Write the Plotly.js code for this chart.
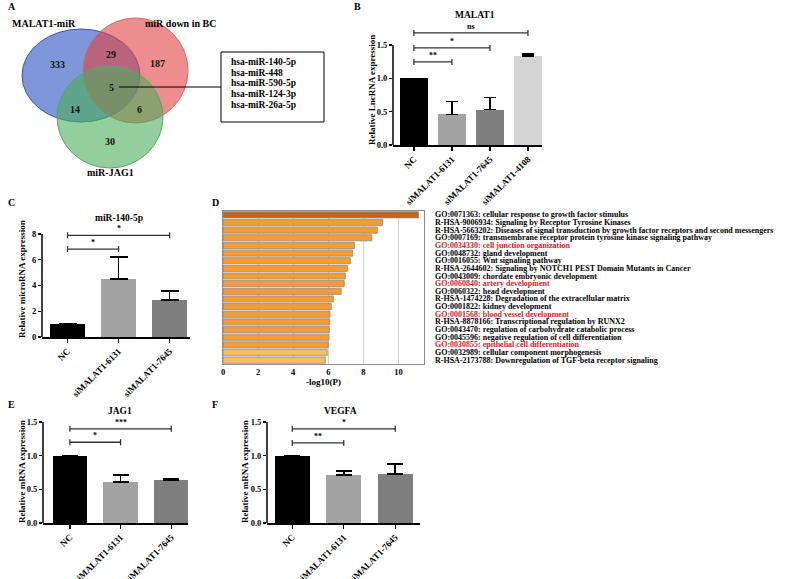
<!DOCTYPE html>
<html>
<head>
<meta charset="utf-8">
<script src="https://cdn.plot.ly/plotly-3.0.1.min.js"></script>
<style>html,body{margin:0;padding:0;background:#fff;}#chart{width:789px;height:579px;}</style>
</head>
<body>
<div id="chart"></div>
<script>
// ---------------- DATA ----------------
// Panel A: Venn diagram
const vennSetNames = ['MALAT1-miR', 'miR down in BC', 'miR-JAG1'];
const vennRegionCounts = [333, 29, 187, 5, 14, 6, 30];
const sharedMiRs = ['hsa-miR-140-5p', 'hsa-miR-448', 'hsa-miR-590-5p', 'hsa-miR-124-3p', 'hsa-miR-26a-5p'];

// Panel B: MALAT1
const malat1Groups = ['NC', 'siMALAT1-6131', 'siMALAT1-7645', 'siMALAT1-4108'];
const malat1Mean = [1.0, 0.46, 0.53, 1.33];
const malat1Err = [0, 0.19, 0.18, 0.03];
const malat1SigPairs = [[0, 1], [0, 2], [0, 3]];
const malat1SigLabels = ['**', '*', 'ns'];
const malat1SigY = [1.245, 1.455, 1.68];

// Panel C: miR-140-5p
const siGroups = ['NC', 'siMALAT1-6131', 'siMALAT1-7645'];
const mir140Mean = [1.0, 4.5, 2.87];
const mir140Err = [0, 1.7, 0.7];
const mir140SigPairs = [[0, 1], [0, 2]];
const mir140SigLabels = ['*', '*'];
const mir140SigY = [6.83, 7.9];

// Panel D: enrichment
const goTerms = [
  'GO:0071363: cellular response to growth factor stimulus',
  'R-HSA-9006934: Signaling by Receptor Tyrosine Kinases',
  'R-HSA-5663202: Diseases of signal transduction by growth factor receptors and second messengers',
  'GO:0007169: transmembrane receptor protein tyrosine kinase signaling pathway',
  'GO:0034330: cell junction organization',
  'GO:0048732: gland development',
  'GO:0016055: Wnt signaling pathway',
  'R-HSA-2644602: Signaling by NOTCH1 PEST Domain Mutants in Cancer',
  'GO:0043009: chordate embryonic development',
  'GO:0060840: artery development',
  'GO:0060322: head development',
  'R-HSA-1474228: Degradation of the extracellular matrix',
  'GO:0001822: kidney development',
  'GO:0001568: blood vessel development',
  'R-HSA-8878166: Transcriptional regulation by RUNX2',
  'GO:0043470: regulation of carbohydrate catabolic process',
  'GO:0045596: negative regulation of cell differentiation',
  'GO:0030855: epithelial cell differentiation',
  'GO:0032989: cellular component morphogenesis',
  'R-HSA-2173788: Downregulation of TGF-beta receptor signaling'
];
const goLogP = [11.14, 9.09, 8.8, 8.48, 7.49, 7.39, 7.26, 7.1, 6.97, 6.91, 6.74, 6.29, 6.17, 6.1, 6.08, 6.06, 6.04, 6.0, 5.94, 5.83];
const goHighlighted = ['GO:0034330: cell junction organization', 'GO:0060840: artery development',
  'GO:0001568: blood vessel development', 'GO:0030855: epithelial cell differentiation'];

// Panel E: JAG1
const jag1Mean = [1.0, 0.61, 0.64];
const jag1Err = [0, 0.10, 0.01];
const jag1SigPairs = [[0, 1], [0, 2]];
const jag1SigLabels = ['*', '***'];
const jag1SigY = [1.2, 1.4];

// Panel F: VEGFA
const vegfaMean = [1.0, 0.71, 0.73];
const vegfaErr = [0, 0.06, 0.15];
const vegfaSigPairs = [[0, 1], [0, 2]];
const vegfaSigLabels = ['**', '*'];
const vegfaSigY = [1.19, 1.4];

// ---------------- STYLE / LAYOUT ----------------
const W = 789, H = 579;
const FONT = 'Liberation Serif, Times New Roman, serif';
const px = x => x / W;
const py = y => 1 - y / H;
const barColors4 = ['#000000', '#a3a3a3', '#7f7f7f', '#d4d4d4'];
const barColors3 = ['#000000', '#a3a3a3', '#7f7f7f'];
const goColors = goLogP.map((v, i) => i === 0 ? '#c8631a' : (i >= goLogP.length - 2 ? '#f8bf5e' : '#f49d34'));

const traces = [];
const shapes = [];
const annotations = [];

function txt(x, y, text, opts) {
  annotations.push(Object.assign({
    x: x, y: y, xref: 'paper', yref: 'paper', text: text, showarrow: false,
    font: {family: FONT, size: 10, color: '#000', weight: 'bold'},
    xanchor: 'center', yanchor: 'middle'
  }, opts || {}));
}

// ---------- Panel A: Venn ----------
const vennEllipses = [
  {x0: 22, x1: 140, y0: 29, y1: 122, fill: 'rgba(25,70,190,0.56)', line: '#3b5aa6'},
  {x0: 83, x1: 188, y0: 18, y1: 123, fill: 'rgba(225,65,65,0.6)', line: '#cf6b6b'},
  {x0: 57, x1: 163, y0: 66, y1: 168, fill: 'rgba(75,175,90,0.6)', line: '#5aa56a'}
];
vennEllipses.forEach(e => shapes.push({
  type: 'circle', xref: 'x', yref: 'y', x0: e.x0, x1: e.x1, y0: e.y0, y1: e.y1,
  fillcolor: e.fill, line: {color: e.line, width: 1}, layer: 'above'
}));
const vennRegionPos = [[57, 64], [111, 54], [157, 63], [111, 87], [75, 109], [139, 109], [110, 141]];
vennRegionCounts.forEach((c, i) => annotations.push({
  x: vennRegionPos[i][0], y: vennRegionPos[i][1], xref: 'x', yref: 'y', text: String(c), showarrow: false,
  font: {family: FONT, size: 10, color: '#111', weight: 'bold'}
}));
const vennSetPos = [[44, 23], [180, 23], [110, 172]];
vennSetNames.forEach((n, i) => annotations.push({
  x: vennSetPos[i][0], y: vennSetPos[i][1], xref: 'x', yref: 'y', text: n, showarrow: false,
  font: {family: FONT, size: 10, color: '#000', weight: 'bold'}
}));
shapes.push({type: 'line', xref: 'x', yref: 'y', x0: 119, x1: 221, y0: 87, y1: 87, line: {color: '#000', width: 1}, layer: 'above'});
shapes.push({type: 'rect', xref: 'x', yref: 'y', x0: 221, x1: 324, y0: 52, y1: 122, line: {color: '#000', width: 1}, fillcolor: 'rgba(0,0,0,0)'});
sharedMiRs.forEach((m, i) => annotations.push({
  x: 229, y: 62 + i * 10.7, xref: 'x', yref: 'y', text: m, showarrow: false, xanchor: 'left',
  font: {family: FONT, size: 9.5, color: '#000', weight: 'bold'}
}));

// ---------- bar panels helper ----------
function barPanel(ax, groups, means, errs, colors, barWidth, capW, sigPairs, sigLabels, sigY, tickHalf, yTop) {
  traces.push({
    type: 'bar', xaxis: 'x' + ax, yaxis: 'y' + ax,
    x: groups.map((g, i) => i), y: means, width: barWidth,
    marker: {color: colors, line: {width: 0}},
    error_y: {type: 'data', symmetric: false, array: errs, arrayminus: errs.map(() => 0),
      color: '#000', thickness: 1.6, width: capW},
    hoverinfo: 'skip'
  });
  shapes.push({type: 'line', xref: 'x' + ax + ' domain', yref: 'y' + ax, x0: 0, x1: 0, y0: 0, y1: yTop,
    line: {color: '#000', width: 1.5}});
  sigPairs.forEach((p, i) => {
    const y = sigY[i];
    const lc = {color: '#333', width: 1.3};
    shapes.push({type: 'line', xref: 'x' + ax, yref: 'y' + ax, x0: p[0], x1: p[1], y0: y, y1: y, line: lc});
    shapes.push({type: 'line', xref: 'x' + ax, yref: 'y' + ax, x0: p[0], x1: p[0], y0: y - tickHalf, y1: y + tickHalf, line: lc});
    shapes.push({type: 'line', xref: 'x' + ax, yref: 'y' + ax, x0: p[1], x1: p[1], y0: y - tickHalf, y1: y + tickHalf, line: lc});
    annotations.push({x: (p[0] + p[1]) / 2, y: y, xref: 'x' + ax, yref: 'y' + ax, text: sigLabels[i],
      showarrow: false, yanchor: 'bottom', yshift: 0,
      font: {family: FONT, size: 8, color: '#000', weight: 'bold'}});
  });
}

barPanel(2, malat1Groups, malat1Mean, malat1Err, barColors4, 0.74, 6, malat1SigPairs, malat1SigLabels, malat1SigY, 0.045, 1.5);
barPanel(3, siGroups, mir140Mean, mir140Err, barColors3, 0.68, 9, mir140SigPairs, mir140SigLabels, mir140SigY, 0.23, 8);
barPanel(5, siGroups, jag1Mean, jag1Err, barColors3, 0.68, 8, jag1SigPairs, jag1SigLabels, jag1SigY, 0.045, 1.5);
barPanel(6, siGroups, vegfaMean, vegfaErr, barColors3, 0.68, 8, vegfaSigPairs, vegfaSigLabels, vegfaSigY, 0.045, 1.5);

// ---------- Panel D ----------
traces.push({
  type: 'bar', orientation: 'h', xaxis: 'x4', yaxis: 'y4',
  x: goLogP, y: goTerms, width: 0.8,
  marker: {color: goColors, line: {color: '#8a8a8a', width: 0.8}},
  hoverinfo: 'skip'
});
goTerms.forEach(t => annotations.push({
  x: px(433), y: t, xref: 'paper', yref: 'y4', text: t, showarrow: false, xanchor: 'left', yanchor: 'middle',
  font: {family: FONT, size: 8, color: goHighlighted.includes(t) ? '#e0191c' : '#000', weight: 'bold'}
}));

// ---------- titles / letters ----------
txt(px(6), py(6), 'A', {xanchor: 'left'});
txt(px(352), py(6), 'B', {xanchor: 'left'});
txt(px(6), py(202), 'C', {xanchor: 'left'});
txt(px(210), py(202), 'D', {xanchor: 'left'});
txt(px(6), py(404), 'E', {xanchor: 'left'});
txt(px(210), py(404), 'F', {xanchor: 'left'});
const ttf = {family: FONT, size: 9.5, color: '#000', weight: 'bold'};
txt(px(475), py(15), 'MALAT1', {font: ttf});
txt(px(119), py(218), 'miR-140-5p', {font: ttf});
txt(px(120), py(411), 'JAG1', {font: ttf});
txt(px(340), py(411), 'VEGFA', {font: ttf});
const ytf = {family: FONT, size: 9, color: '#000', weight: 'bold'};
txt(px(372), py(90), 'Relative LncRNA expression', {textangle: -90, font: ytf});
txt(px(22), py(279), 'Relative microRNA expression', {textangle: -90, font: ytf});
txt(px(22), py(472), 'Relative mRNA expression', {textangle: -90, font: ytf});
txt(px(245), py(472), 'Relative mRNA expression', {textangle: -90, font: ytf});

// ---------- axes ----------
const tickFont = {family: FONT, size: 8.5, color: '#000', weight: 'bold'};
function xCat(ax, domain, range, groups) {
  return {anchor: 'y' + ax, domain: domain, range: range, showline: true, linecolor: '#000', linewidth: 1.5,
    tickmode: 'array', tickvals: groups.map((g, i) => i), ticktext: groups, tickangle: -45,
    ticks: 'outside', ticklen: 4, tickwidth: 1.3, tickcolor: '#000', showgrid: false, zeroline: false,
    tickfont: {family: FONT, size: 9, color: '#000', weight: 'bold'}, fixedrange: true};
}
function yNum(ax, domain, range, vals, texts) {
  return {anchor: 'x' + ax, domain: domain, range: range, showline: false, tickmode: 'array', tickvals: vals, ticktext: texts,
    ticks: 'outside', ticklen: 3, tickwidth: 1.3, tickcolor: '#000', showgrid: false, zeroline: false,
    tickfont: tickFont, fixedrange: true};
}
const hidden = {showline: false, showgrid: false, zeroline: false, showticklabels: false, ticks: '', fixedrange: true};
const t15 = [[0, 0.5, 1, 1.5], ['0.0', '0.5', '1.0', '1.5']];

const layout = {
  width: W, height: H, margin: {l: 0, r: 0, t: 0, b: 0, pad: 0},
  paper_bgcolor: '#fff', plot_bgcolor: 'rgba(0,0,0,0)', showlegend: false,
  font: {family: FONT, size: 9, color: '#000', weight: 'bold'},
  xaxis: Object.assign({anchor: 'y', domain: [0, px(360)], range: [0, 360]}, hidden),
  yaxis: Object.assign({anchor: 'x', domain: [py(200), 1], range: [200, 0]}, hidden),
  xaxis2: xCat(2, [px(393), px(542)], [-0.55, 3.37], malat1Groups),
  yaxis2: yNum(2, [py(145), py(22)], [0, (145 - 22) / 66.7], t15[0], t15[1]),
  xaxis3: xCat(3, [px(42), px(190)], [-0.5, 2.4], siGroups),
  yaxis3: yNum(3, [py(337), py(225)], [0, (337 - 225) / 12.875], [0, 2, 4, 6, 8], ['0', '2', '4', '6', '8']),
  xaxis4: {anchor: 'y4', domain: [px(223), px(424)], range: [0, (424 - 223.5) / 17.5], showline: true, mirror: true,
    linecolor: '#8c8c8c', linewidth: 1, showgrid: true, gridcolor: '#d0d0d0', gridwidth: 1, zeroline: false,
    tickmode: 'array', tickvals: [0, 2, 4, 6, 8, 10], ticks: '', tickfont: tickFont, fixedrange: true,
    title: {text: '-log10(P)', font: {family: FONT, size: 9, color: '#000', weight: 'bold'}, standoff: 2}},
  yaxis4: {anchor: 'x4', domain: [py(364), py(211)], type: 'category', range: [goTerms.length - 0.5, -0.5],
    showline: true, mirror: true, linecolor: '#8c8c8c', linewidth: 1, showgrid: false, zeroline: false,
    showticklabels: false, ticks: '', fixedrange: true},
  xaxis5: xCat(5, [px(43), px(188)], [-0.53, 2.33], siGroups),
  yaxis5: yNum(5, [py(523), py(405)], [0, (523 - 405) / 67.3], t15[0], t15[1]),
  xaxis6: xCat(6, [px(267), px(420)], [-0.49, 2.48], siGroups),
  yaxis6: yNum(6, [py(523), py(405)], [0, (523 - 405) / 67.3], t15[0], t15[1]),
  shapes: shapes,
  annotations: annotations,
  bargap: 0
};

Plotly.newPlot('chart', traces, layout, {displayModeBar: false, staticPlot: true});
</script>
</body>
</html>
